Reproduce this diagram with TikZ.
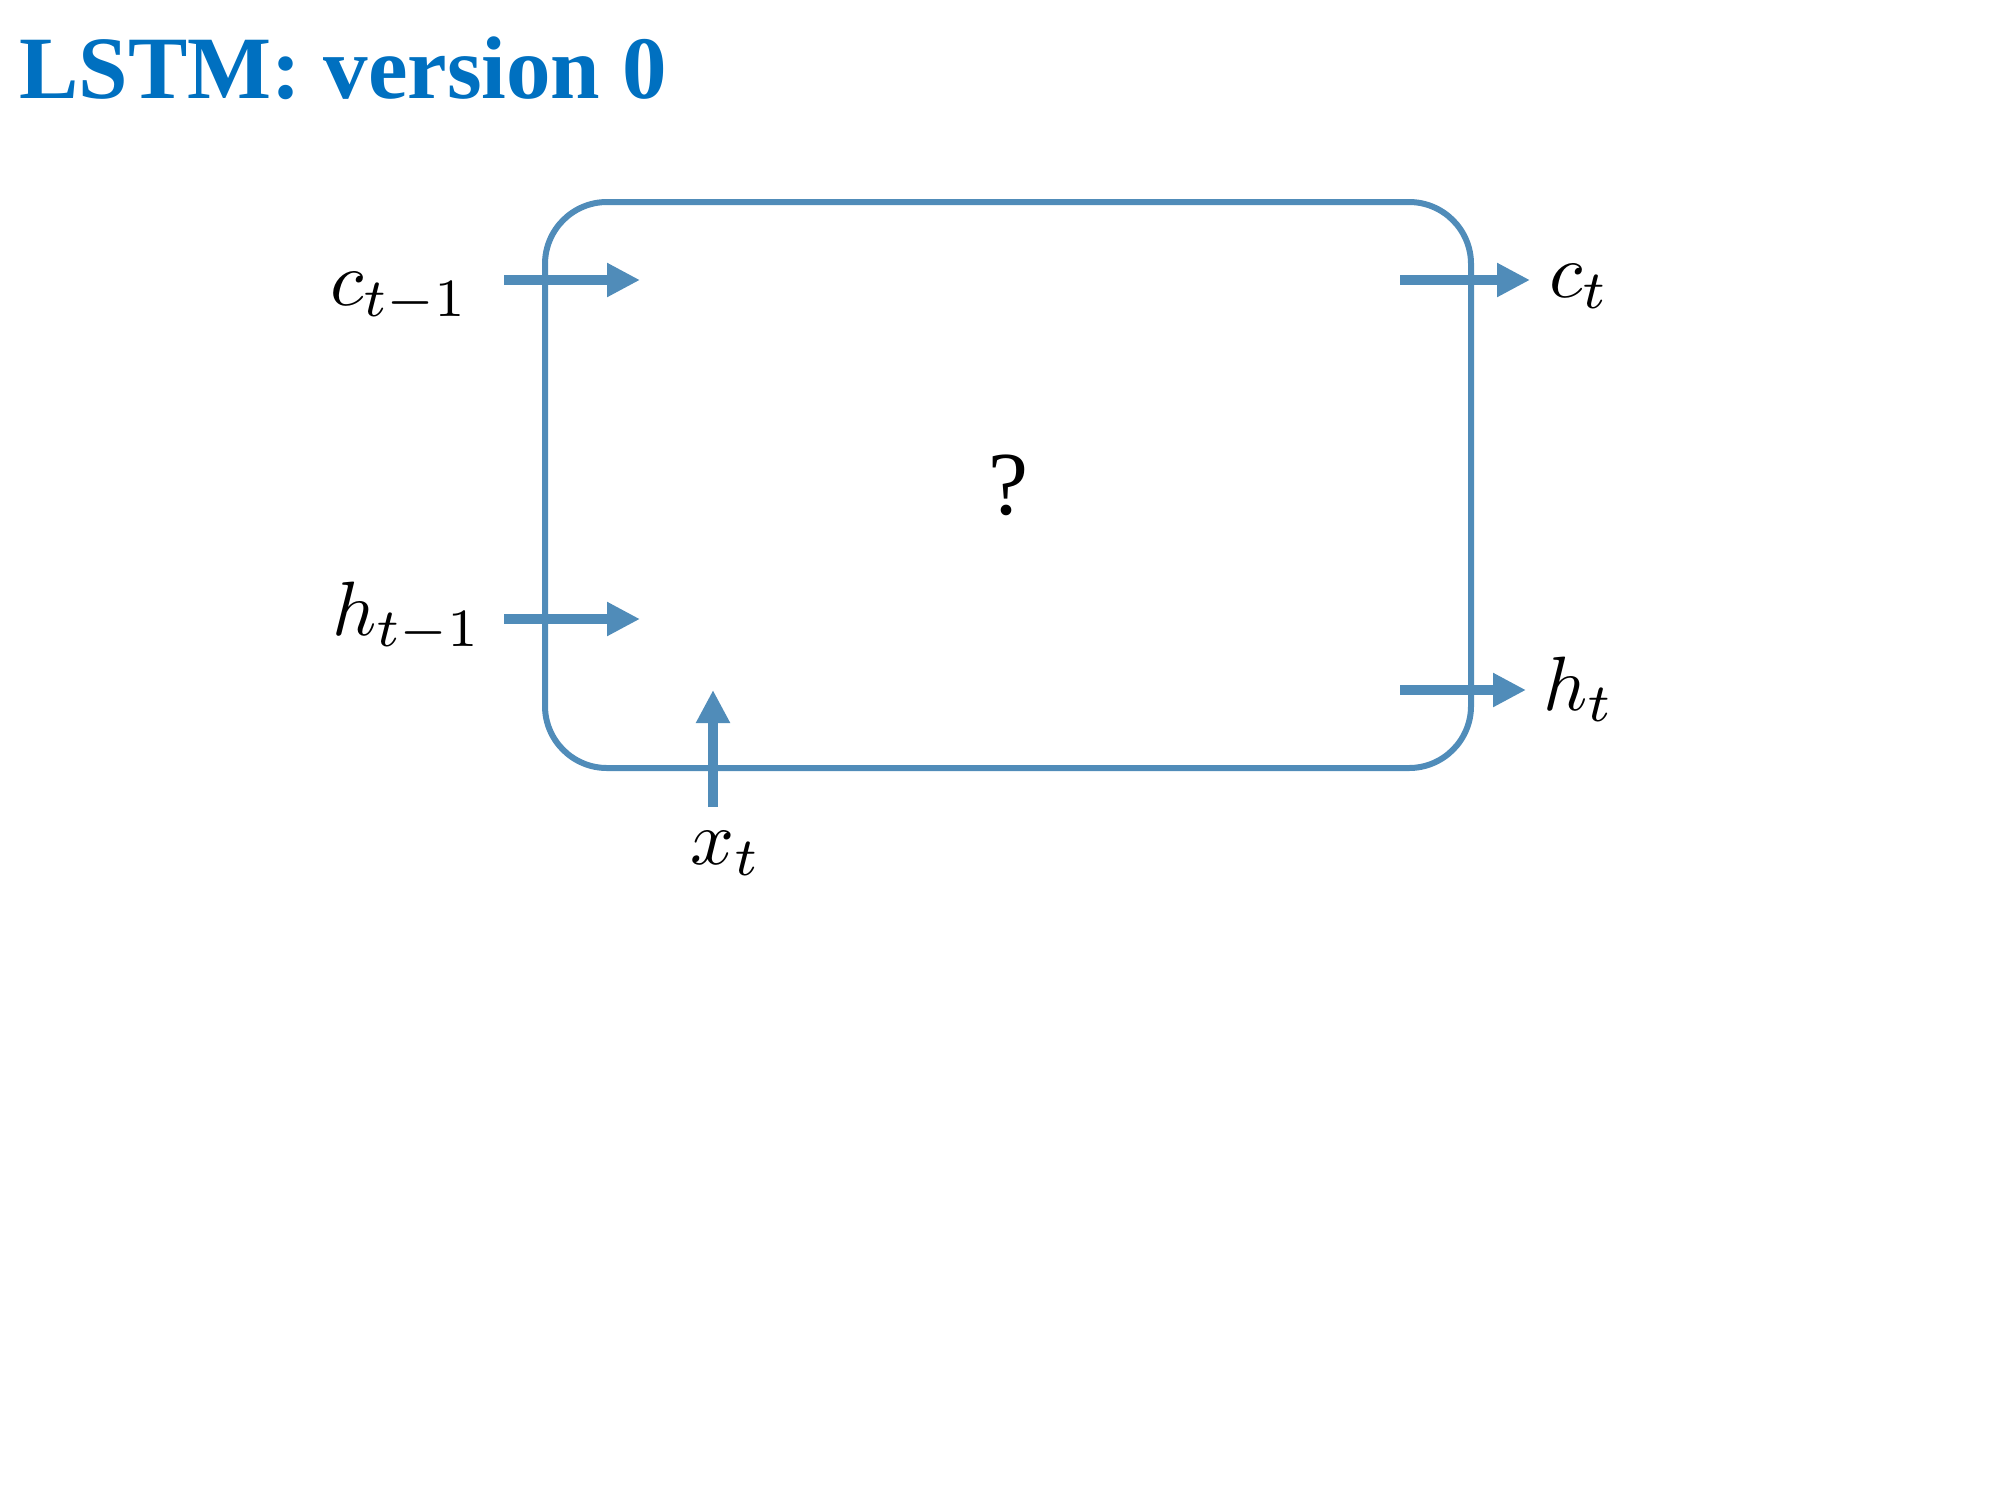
\documentclass[tikz,border=0pt]{standalone}
\usepackage[no-math]{fontspec}
\newfontfamily\timesfont{Liberation Serif}
\DeclareFontShape{OML}{cmm}{m}{it}{<-30> cmmi7 <30-> cmmi10}{}
\DeclareFontShape{OT1}{cmr}{m}{n}{<-30> cmr7 <30-> cmr10}{}
\DeclareFontShape{OMS}{cmsy}{m}{n}{<-30> cmsy7 <30-> cmsy10}{}
\DeclareMathSizes{38.5}{38.5}{26.95}{19.25}
\usetikzlibrary{arrows.meta}
\definecolor{titleblue}{RGB}{0,112,192}
\definecolor{cellblue}{RGB}{80,140,185}
\tikzset{
  flow/.style={draw=cellblue, line width=5pt, -{Triangle[length=16.5pt,width=16pt]}},
  lbl/.style={anchor=base west, inner sep=0pt, outer sep=0pt, font=\fontsize{38.5}{44}\selectfont},
}
\begin{document}
\begin{tikzpicture}[x=0.5pt,y=-0.5pt]
\useasboundingbox (0,0) rectangle (2000,1500);
\node[anchor=base west, inner sep=0pt, text=titleblue, font=\timesfont\fontsize{44.5}{50}\selectfont\bfseries] (title) at (19,98) {LSTM: version 0};
\node[draw=cellblue, line width=3pt, rounded corners=31pt, minimum width=463pt, minimum height=283pt, inner sep=0pt,
      font=\timesfont\fontsize{45}{50}\selectfont] (cell) at (1008,485) {?};
% labels
\node[lbl] (cprev) at (330,305) {$c_{t-1}$};
\node[lbl] (hprev) at (332,635) {$h_{t-1}$};
\node[lbl] (xt) at (690,864) {$x_t$};
\node[lbl] (ct) at (1549,297) {$c_t$};
\node[lbl] (ht) at (1543,710) {$h_t$};
% arrow end points
\coordinate (c0) at (504,280);
\coordinate (c1) at (640,280);
\coordinate (h0) at (504,619);
\coordinate (h1) at (640,619);
\coordinate (x0) at (713,807);
\coordinate (x1) at (713,690);
\coordinate (co0) at (1400,280);
\coordinate (co1) at (1530,280);
\coordinate (ho0) at (1400,690);
\coordinate (ho1) at (1526,690);
\draw[flow] (c0) -- (c1);
\draw[flow] (h0) -- (h1);
\draw[flow] (x0) -- (x1);
\draw[flow] (co0) -- (co1);
\draw[flow] (ho0) -- (ho1);
\end{tikzpicture}
\end{document}
